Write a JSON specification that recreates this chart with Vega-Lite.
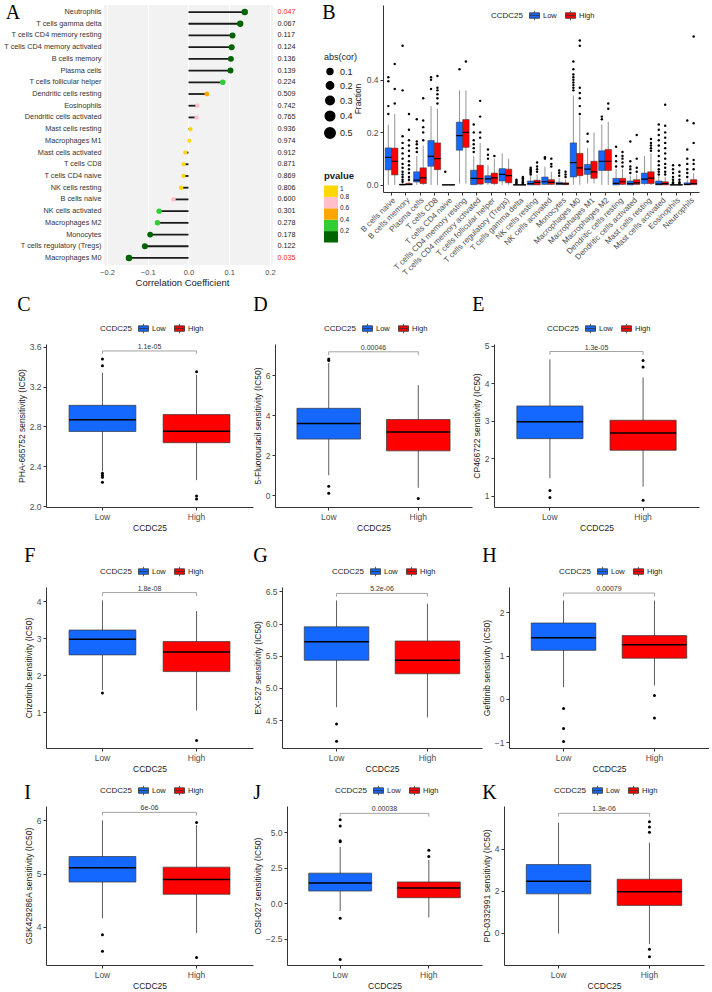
{
"$schema": "https://vega.github.io/schema/vega-lite/v6.json",
"padding": {"left": 3, "top": 3, "right": 0, "bottom": 0},
"config": {
  "view": {"stroke": null},
  "font": "Liberation Sans",
  "axis": {"labelFont": "Liberation Sans", "titleFont": "Liberation Sans", "labelFontSize": 8.5, "titleFontSize": 8.5, "titleFontWeight": "normal", "labelColor": "#4d4d4d", "titleColor": "#1a1a1a", "domainColor": "#333333", "tickColor": "#333333", "tickSize": 3, "grid": false, "labelPadding": 2, "titlePadding": 3},
  "legend": {"titleFont": "Liberation Sans", "labelFont": "Liberation Sans", "titleFontSize": 8, "labelFontSize": 7.5, "titleFontWeight": "normal", "titleColor": "#1a1a1a", "labelColor": "#1a1a1a", "gradientLength": 57, "gradientVerticalMaxLength": 57, "gradientVerticalMinLength": 57, "gradientThickness": 14},
  "title": {"font": "Liberation Serif", "fontSize": 20, "fontWeight": "normal", "anchor": "start", "color": "#000000"}
},
"datasets": {
  "cells": [
    {"cell": "Neutrophils", "cor": 0.138, "abscor": 0.138, "pvalue": 0.047, "ptext": "0.047"},
    {"cell": "T cells gamma delta", "cor": 0.127, "abscor": 0.127, "pvalue": 0.067, "ptext": "0.067"},
    {"cell": "T cells CD4 memory resting", "cor": 0.108, "abscor": 0.108, "pvalue": 0.117, "ptext": "0.117"},
    {"cell": "T cells CD4 memory activated", "cor": 0.106, "abscor": 0.106, "pvalue": 0.124, "ptext": "0.124"},
    {"cell": "B cells memory", "cor": 0.104, "abscor": 0.104, "pvalue": 0.136, "ptext": "0.136"},
    {"cell": "Plasma cells", "cor": 0.103, "abscor": 0.103, "pvalue": 0.139, "ptext": "0.139"},
    {"cell": "T cells follicular helper", "cor": 0.084, "abscor": 0.084, "pvalue": 0.224, "ptext": "0.224"},
    {"cell": "Dendritic cells resting", "cor": 0.045, "abscor": 0.045, "pvalue": 0.509, "ptext": "0.509"},
    {"cell": "Eosinophils", "cor": 0.022, "abscor": 0.022, "pvalue": 0.742, "ptext": "0.742"},
    {"cell": "Dendritic cells activated", "cor": 0.020, "abscor": 0.020, "pvalue": 0.765, "ptext": "0.765"},
    {"cell": "Mast cells resting", "cor": 0.005, "abscor": 0.005, "pvalue": 0.936, "ptext": "0.936"},
    {"cell": "Macrophages M1", "cor": 0.002, "abscor": 0.002, "pvalue": 0.974, "ptext": "0.974"},
    {"cell": "Mast cells activated", "cor": -0.008, "abscor": 0.008, "pvalue": 0.912, "ptext": "0.912"},
    {"cell": "T cells CD8", "cor": -0.012, "abscor": 0.012, "pvalue": 0.871, "ptext": "0.871"},
    {"cell": "T cells CD4 naive", "cor": -0.0125, "abscor": 0.0125, "pvalue": 0.869, "ptext": "0.869"},
    {"cell": "NK cells resting", "cor": -0.018, "abscor": 0.018, "pvalue": 0.806, "ptext": "0.806"},
    {"cell": "B cells naive", "cor": -0.037, "abscor": 0.037, "pvalue": 0.600, "ptext": "0.600"},
    {"cell": "NK cells activated", "cor": -0.072, "abscor": 0.072, "pvalue": 0.301, "ptext": "0.301"},
    {"cell": "Macrophages M2", "cor": -0.076, "abscor": 0.076, "pvalue": 0.278, "ptext": "0.278"},
    {"cell": "Monocytes", "cor": -0.094, "abscor": 0.094, "pvalue": 0.178, "ptext": "0.178"},
    {"cell": "T cells regulatory (Tregs)", "cor": -0.107, "abscor": 0.107, "pvalue": 0.122, "ptext": "0.122"},
    {"cell": "Macrophages M0", "cor": -0.146, "abscor": 0.146, "pvalue": 0.035, "ptext": "0.035"}
  ],
  "imm": [
    {"cell": "B cells naive", "grp": "Low", "lo": 0, "q1": 0.057, "med": 0.105, "q3": 0.141, "hi": 0.23},
    {"cell": "B cells naive", "grp": "High", "lo": 0, "q1": 0.038, "med": 0.09, "q3": 0.14, "hi": 0.27},
    {"cell": "B cells memory", "grp": "Low", "lo": 0, "q1": 0, "med": 0.001, "q3": 0.003, "hi": 0.007},
    {"cell": "B cells memory", "grp": "High", "lo": 0, "q1": 0, "med": 0.002, "q3": 0.006, "hi": 0.014},
    {"cell": "Plasma cells", "grp": "Low", "lo": 0, "q1": 0.011, "med": 0.018, "q3": 0.05, "hi": 0.11},
    {"cell": "Plasma cells", "grp": "High", "lo": 0, "q1": 0.005, "med": 0.027, "q3": 0.065, "hi": 0.15},
    {"cell": "T cells CD8", "grp": "Low", "lo": 0, "q1": 0.071, "med": 0.109, "q3": 0.169, "hi": 0.30},
    {"cell": "T cells CD8", "grp": "High", "lo": 0, "q1": 0.058, "med": 0.10, "q3": 0.16, "hi": 0.29},
    {"cell": "T cells CD4 naive", "grp": "Low", "lo": 0, "q1": 0, "med": 0, "q3": 0.001, "hi": 0.002},
    {"cell": "T cells CD4 naive", "grp": "High", "lo": 0, "q1": 0, "med": 0, "q3": 0.001, "hi": 0.002},
    {"cell": "T cells CD4 memory resting", "grp": "Low", "lo": 0.005, "q1": 0.132, "med": 0.188, "q3": 0.239, "hi": 0.36},
    {"cell": "T cells CD4 memory resting", "grp": "High", "lo": 0.005, "q1": 0.143, "med": 0.20, "q3": 0.249, "hi": 0.36},
    {"cell": "T cells CD4 memory activated", "grp": "Low", "lo": 0, "q1": 0.001, "med": 0.025, "q3": 0.056, "hi": 0.11},
    {"cell": "T cells CD4 memory activated", "grp": "High", "lo": 0, "q1": 0.003, "med": 0.024, "q3": 0.075, "hi": 0.16},
    {"cell": "T cells follicular helper", "grp": "Low", "lo": 0, "q1": 0.008, "med": 0.023, "q3": 0.035, "hi": 0.075},
    {"cell": "T cells follicular helper", "grp": "High", "lo": 0, "q1": 0.005, "med": 0.027, "q3": 0.045, "hi": 0.10},
    {"cell": "T cells regulatory (Tregs)", "grp": "Low", "lo": 0, "q1": 0.015, "med": 0.04, "q3": 0.062, "hi": 0.12},
    {"cell": "T cells regulatory (Tregs)", "grp": "High", "lo": 0, "q1": 0.008, "med": 0.035, "q3": 0.06, "hi": 0.10},
    {"cell": "T cells gamma delta", "grp": "Low", "lo": 0, "q1": 0, "med": 0, "q3": 0.001, "hi": 0.002},
    {"cell": "T cells gamma delta", "grp": "High", "lo": 0, "q1": 0, "med": 0, "q3": 0.001, "hi": 0.003},
    {"cell": "NK cells resting", "grp": "Low", "lo": 0, "q1": 0, "med": 0.005, "q3": 0.015, "hi": 0.035},
    {"cell": "NK cells resting", "grp": "High", "lo": 0, "q1": 0, "med": 0.01, "q3": 0.018, "hi": 0.04},
    {"cell": "NK cells activated", "grp": "Low", "lo": 0, "q1": 0.002, "med": 0.012, "q3": 0.03, "hi": 0.07},
    {"cell": "NK cells activated", "grp": "High", "lo": 0, "q1": 0.002, "med": 0.01, "q3": 0.02, "hi": 0.05},
    {"cell": "Monocytes", "grp": "Low", "lo": 0, "q1": 0.001, "med": 0.005, "q3": 0.01, "hi": 0.025},
    {"cell": "Monocytes", "grp": "High", "lo": 0, "q1": 0.001, "med": 0.004, "q3": 0.008, "hi": 0.02},
    {"cell": "Macrophages M0", "grp": "Low", "lo": 0, "q1": 0.03, "med": 0.085, "q3": 0.16, "hi": 0.34},
    {"cell": "Macrophages M0", "grp": "High", "lo": 0, "q1": 0.035, "med": 0.065, "q3": 0.12, "hi": 0.26},
    {"cell": "Macrophages M1", "grp": "Low", "lo": 0.005, "q1": 0.04, "med": 0.06, "q3": 0.078, "hi": 0.14},
    {"cell": "Macrophages M1", "grp": "High", "lo": 0.005, "q1": 0.025, "med": 0.05, "q3": 0.09, "hi": 0.20},
    {"cell": "Macrophages M2", "grp": "Low", "lo": 0, "q1": 0.055, "med": 0.09, "q3": 0.13, "hi": 0.23},
    {"cell": "Macrophages M2", "grp": "High", "lo": 0, "q1": 0.055, "med": 0.09, "q3": 0.135, "hi": 0.24},
    {"cell": "Dendritic cells resting", "grp": "Low", "lo": 0, "q1": 0, "med": 0.006, "q3": 0.025, "hi": 0.06},
    {"cell": "Dendritic cells resting", "grp": "High", "lo": 0, "q1": 0.002, "med": 0.012, "q3": 0.025, "hi": 0.06},
    {"cell": "Dendritic cells activated", "grp": "Low", "lo": 0, "q1": 0, "med": 0.005, "q3": 0.015, "hi": 0.035},
    {"cell": "Dendritic cells activated", "grp": "High", "lo": 0, "q1": 0.002, "med": 0.008, "q3": 0.02, "hi": 0.04},
    {"cell": "Mast cells resting", "grp": "Low", "lo": 0, "q1": 0.005, "med": 0.022, "q3": 0.045, "hi": 0.11},
    {"cell": "Mast cells resting", "grp": "High", "lo": 0, "q1": 0.005, "med": 0.026, "q3": 0.05, "hi": 0.12},
    {"cell": "Mast cells activated", "grp": "Low", "lo": 0, "q1": 0, "med": 0.003, "q3": 0.015, "hi": 0.035},
    {"cell": "Mast cells activated", "grp": "High", "lo": 0, "q1": 0, "med": 0.005, "q3": 0.012, "hi": 0.03},
    {"cell": "Eosinophils", "grp": "Low", "lo": 0, "q1": 0, "med": 0, "q3": 0.001, "hi": 0.002},
    {"cell": "Eosinophils", "grp": "High", "lo": 0, "q1": 0, "med": 0, "q3": 0.001, "hi": 0.002},
    {"cell": "Neutrophils", "grp": "Low", "lo": 0, "q1": 0, "med": 0.002, "q3": 0.008, "hi": 0.02},
    {"cell": "Neutrophils", "grp": "High", "lo": 0, "q1": 0.001, "med": 0.005, "q3": 0.02, "hi": 0.045}
  ],
  "imm_out": [
    {"cell": "B cells naive", "grp": "Low", "v": 0.27}, {"cell": "B cells naive", "grp": "Low", "v": 0.30}, {"cell": "B cells naive", "grp": "Low", "v": 0.395}, {"cell": "B cells naive", "grp": "Low", "v": 0.41},
    {"cell": "B cells naive", "grp": "High", "v": 0.31}, {"cell": "B cells naive", "grp": "High", "v": 0.365}, {"cell": "B cells naive", "grp": "High", "v": 0.46},
    {"cell": "B cells memory", "grp": "Low", "v": 0.012}, {"cell": "B cells memory", "grp": "Low", "v": 0.02}, {"cell": "B cells memory", "grp": "Low", "v": 0.03}, {"cell": "B cells memory", "grp": "Low", "v": 0.04}, {"cell": "B cells memory", "grp": "Low", "v": 0.05}, {"cell": "B cells memory", "grp": "Low", "v": 0.065}, {"cell": "B cells memory", "grp": "Low", "v": 0.08}, {"cell": "B cells memory", "grp": "Low", "v": 0.1}, {"cell": "B cells memory", "grp": "Low", "v": 0.12}, {"cell": "B cells memory", "grp": "Low", "v": 0.14}, {"cell": "B cells memory", "grp": "Low", "v": 0.16}, {"cell": "B cells memory", "grp": "Low", "v": 0.185}, {"cell": "B cells memory", "grp": "Low", "v": 0.36}, {"cell": "B cells memory", "grp": "Low", "v": 0.53},
    {"cell": "B cells memory", "grp": "High", "v": 0.02}, {"cell": "B cells memory", "grp": "High", "v": 0.03}, {"cell": "B cells memory", "grp": "High", "v": 0.045}, {"cell": "B cells memory", "grp": "High", "v": 0.06}, {"cell": "B cells memory", "grp": "High", "v": 0.075}, {"cell": "B cells memory", "grp": "High", "v": 0.09}, {"cell": "B cells memory", "grp": "High", "v": 0.11}, {"cell": "B cells memory", "grp": "High", "v": 0.13}, {"cell": "B cells memory", "grp": "High", "v": 0.15}, {"cell": "B cells memory", "grp": "High", "v": 0.17}, {"cell": "B cells memory", "grp": "High", "v": 0.21}, {"cell": "B cells memory", "grp": "High", "v": 0.27},
    {"cell": "Plasma cells", "grp": "Low", "v": 0.125}, {"cell": "Plasma cells", "grp": "Low", "v": 0.14}, {"cell": "Plasma cells", "grp": "Low", "v": 0.155}, {"cell": "Plasma cells", "grp": "Low", "v": 0.165}, {"cell": "Plasma cells", "grp": "Low", "v": 0.25},
    {"cell": "Plasma cells", "grp": "High", "v": 0.17}, {"cell": "Plasma cells", "grp": "High", "v": 0.2}, {"cell": "Plasma cells", "grp": "High", "v": 0.22}, {"cell": "Plasma cells", "grp": "High", "v": 0.245}, {"cell": "Plasma cells", "grp": "High", "v": 0.33},
    {"cell": "T cells CD8", "grp": "Low", "v": 0.365}, {"cell": "T cells CD8", "grp": "Low", "v": 0.40}, {"cell": "T cells CD8", "grp": "Low", "v": 0.41},
    {"cell": "T cells CD8", "grp": "High", "v": 0.31}, {"cell": "T cells CD8", "grp": "High", "v": 0.33}, {"cell": "T cells CD8", "grp": "High", "v": 0.345}, {"cell": "T cells CD8", "grp": "High", "v": 0.36}, {"cell": "T cells CD8", "grp": "High", "v": 0.37}, {"cell": "T cells CD8", "grp": "High", "v": 0.415},
    {"cell": "T cells CD4 naive", "grp": "Low", "v": 0.05},
    {"cell": "T cells CD4 memory resting", "grp": "Low", "v": 0.44}, {"cell": "T cells CD4 memory resting", "grp": "High", "v": 0.47},
    {"cell": "T cells CD4 memory activated", "grp": "Low", "v": 0.125}, {"cell": "T cells CD4 memory activated", "grp": "Low", "v": 0.14}, {"cell": "T cells CD4 memory activated", "grp": "Low", "v": 0.155}, {"cell": "T cells CD4 memory activated", "grp": "Low", "v": 0.17}, {"cell": "T cells CD4 memory activated", "grp": "Low", "v": 0.2}, {"cell": "T cells CD4 memory activated", "grp": "Low", "v": 0.23},
    {"cell": "T cells CD4 memory activated", "grp": "High", "v": 0.18}, {"cell": "T cells CD4 memory activated", "grp": "High", "v": 0.2}, {"cell": "T cells CD4 memory activated", "grp": "High", "v": 0.26}, {"cell": "T cells CD4 memory activated", "grp": "High", "v": 0.32},
    {"cell": "T cells follicular helper", "grp": "Low", "v": 0.10}, {"cell": "T cells follicular helper", "grp": "Low", "v": 0.115}, {"cell": "T cells follicular helper", "grp": "Low", "v": 0.135}, {"cell": "T cells follicular helper", "grp": "High", "v": 0.11},
    {"cell": "T cells gamma delta", "grp": "Low", "v": 0.005}, {"cell": "T cells gamma delta", "grp": "Low", "v": 0.01}, {"cell": "T cells gamma delta", "grp": "Low", "v": 0.015}, {"cell": "T cells gamma delta", "grp": "Low", "v": 0.02},
    {"cell": "T cells gamma delta", "grp": "High", "v": 0.005}, {"cell": "T cells gamma delta", "grp": "High", "v": 0.01}, {"cell": "T cells gamma delta", "grp": "High", "v": 0.015}, {"cell": "T cells gamma delta", "grp": "High", "v": 0.02}, {"cell": "T cells gamma delta", "grp": "High", "v": 0.025}, {"cell": "T cells gamma delta", "grp": "High", "v": 0.03},
    {"cell": "NK cells resting", "grp": "Low", "v": 0.04}, {"cell": "NK cells resting", "grp": "Low", "v": 0.045}, {"cell": "NK cells resting", "grp": "Low", "v": 0.05}, {"cell": "NK cells resting", "grp": "Low", "v": 0.055}, {"cell": "NK cells resting", "grp": "Low", "v": 0.06}, {"cell": "NK cells resting", "grp": "Low", "v": 0.065},
    {"cell": "NK cells resting", "grp": "High", "v": 0.05}, {"cell": "NK cells resting", "grp": "High", "v": 0.06}, {"cell": "NK cells resting", "grp": "High", "v": 0.07}, {"cell": "NK cells resting", "grp": "High", "v": 0.085},
    {"cell": "NK cells activated", "grp": "Low", "v": 0.10}, {"cell": "NK cells activated", "grp": "Low", "v": 0.105}, {"cell": "NK cells activated", "grp": "High", "v": 0.07}, {"cell": "NK cells activated", "grp": "High", "v": 0.08}, {"cell": "NK cells activated", "grp": "High", "v": 0.10},
    {"cell": "Monocytes", "grp": "Low", "v": 0.035}, {"cell": "Monocytes", "grp": "Low", "v": 0.045}, {"cell": "Monocytes", "grp": "Low", "v": 0.055}, {"cell": "Monocytes", "grp": "High", "v": 0.03}, {"cell": "Monocytes", "grp": "High", "v": 0.04}, {"cell": "Monocytes", "grp": "High", "v": 0.05},
    {"cell": "Macrophages M0", "grp": "Low", "v": 0.36}, {"cell": "Macrophages M0", "grp": "Low", "v": 0.37}, {"cell": "Macrophages M0", "grp": "Low", "v": 0.38}, {"cell": "Macrophages M0", "grp": "Low", "v": 0.39}, {"cell": "Macrophages M0", "grp": "Low", "v": 0.40}, {"cell": "Macrophages M0", "grp": "Low", "v": 0.41}, {"cell": "Macrophages M0", "grp": "Low", "v": 0.42}, {"cell": "Macrophages M0", "grp": "Low", "v": 0.44}, {"cell": "Macrophages M0", "grp": "Low", "v": 0.47},
    {"cell": "Macrophages M0", "grp": "High", "v": 0.27}, {"cell": "Macrophages M0", "grp": "High", "v": 0.30}, {"cell": "Macrophages M0", "grp": "High", "v": 0.33}, {"cell": "Macrophages M0", "grp": "High", "v": 0.35}, {"cell": "Macrophages M0", "grp": "High", "v": 0.37}, {"cell": "Macrophages M0", "grp": "High", "v": 0.53}, {"cell": "Macrophages M0", "grp": "High", "v": 0.55},
    {"cell": "Macrophages M1", "grp": "Low", "v": 0.165}, {"cell": "Macrophages M1", "grp": "Low", "v": 0.195},
    {"cell": "Macrophages M2", "grp": "Low", "v": 0.25}, {"cell": "Macrophages M2", "grp": "Low", "v": 0.26}, {"cell": "Macrophages M2", "grp": "High", "v": 0.29}, {"cell": "Macrophages M2", "grp": "High", "v": 0.31},
    {"cell": "Dendritic cells resting", "grp": "Low", "v": 0.07}, {"cell": "Dendritic cells resting", "grp": "Low", "v": 0.09}, {"cell": "Dendritic cells resting", "grp": "Low", "v": 0.11}, {"cell": "Dendritic cells resting", "grp": "Low", "v": 0.145},
    {"cell": "Dendritic cells resting", "grp": "High", "v": 0.07}, {"cell": "Dendritic cells resting", "grp": "High", "v": 0.085}, {"cell": "Dendritic cells resting", "grp": "High", "v": 0.10}, {"cell": "Dendritic cells resting", "grp": "High", "v": 0.11}, {"cell": "Dendritic cells resting", "grp": "High", "v": 0.125},
    {"cell": "Dendritic cells activated", "grp": "Low", "v": 0.045}, {"cell": "Dendritic cells activated", "grp": "Low", "v": 0.06}, {"cell": "Dendritic cells activated", "grp": "Low", "v": 0.07}, {"cell": "Dendritic cells activated", "grp": "Low", "v": 0.09}, {"cell": "Dendritic cells activated", "grp": "Low", "v": 0.165},
    {"cell": "Dendritic cells activated", "grp": "High", "v": 0.05}, {"cell": "Dendritic cells activated", "grp": "High", "v": 0.065}, {"cell": "Dendritic cells activated", "grp": "High", "v": 0.10}, {"cell": "Dendritic cells activated", "grp": "High", "v": 0.19},
    {"cell": "Mast cells resting", "grp": "High", "v": 0.13}, {"cell": "Mast cells resting", "grp": "High", "v": 0.14}, {"cell": "Mast cells resting", "grp": "High", "v": 0.15}, {"cell": "Mast cells resting", "grp": "High", "v": 0.16}, {"cell": "Mast cells resting", "grp": "High", "v": 0.175},
    {"cell": "Mast cells activated", "grp": "Low", "v": 0.04}, {"cell": "Mast cells activated", "grp": "Low", "v": 0.05}, {"cell": "Mast cells activated", "grp": "Low", "v": 0.06}, {"cell": "Mast cells activated", "grp": "Low", "v": 0.075}, {"cell": "Mast cells activated", "grp": "Low", "v": 0.09}, {"cell": "Mast cells activated", "grp": "Low", "v": 0.11}, {"cell": "Mast cells activated", "grp": "Low", "v": 0.13}, {"cell": "Mast cells activated", "grp": "Low", "v": 0.15}, {"cell": "Mast cells activated", "grp": "Low", "v": 0.17}, {"cell": "Mast cells activated", "grp": "Low", "v": 0.19}, {"cell": "Mast cells activated", "grp": "Low", "v": 0.21}, {"cell": "Mast cells activated", "grp": "Low", "v": 0.23},
    {"cell": "Mast cells activated", "grp": "High", "v": 0.04}, {"cell": "Mast cells activated", "grp": "High", "v": 0.05}, {"cell": "Mast cells activated", "grp": "High", "v": 0.065}, {"cell": "Mast cells activated", "grp": "High", "v": 0.08}, {"cell": "Mast cells activated", "grp": "High", "v": 0.10}, {"cell": "Mast cells activated", "grp": "High", "v": 0.12}, {"cell": "Mast cells activated", "grp": "High", "v": 0.14}, {"cell": "Mast cells activated", "grp": "High", "v": 0.16}, {"cell": "Mast cells activated", "grp": "High", "v": 0.18}, {"cell": "Mast cells activated", "grp": "High", "v": 0.20}, {"cell": "Mast cells activated", "grp": "High", "v": 0.225}, {"cell": "Mast cells activated", "grp": "High", "v": 0.305},
    {"cell": "Eosinophils", "grp": "Low", "v": 0.005}, {"cell": "Eosinophils", "grp": "Low", "v": 0.01}, {"cell": "Eosinophils", "grp": "Low", "v": 0.02}, {"cell": "Eosinophils", "grp": "Low", "v": 0.03}, {"cell": "Eosinophils", "grp": "Low", "v": 0.045}, {"cell": "Eosinophils", "grp": "Low", "v": 0.06}, {"cell": "Eosinophils", "grp": "Low", "v": 0.075},
    {"cell": "Eosinophils", "grp": "High", "v": 0.005}, {"cell": "Eosinophils", "grp": "High", "v": 0.01}, {"cell": "Eosinophils", "grp": "High", "v": 0.02}, {"cell": "Eosinophils", "grp": "High", "v": 0.035}, {"cell": "Eosinophils", "grp": "High", "v": 0.05}, {"cell": "Eosinophils", "grp": "High", "v": 0.075},
    {"cell": "Neutrophils", "grp": "Low", "v": 0.03}, {"cell": "Neutrophils", "grp": "Low", "v": 0.045}, {"cell": "Neutrophils", "grp": "Low", "v": 0.06}, {"cell": "Neutrophils", "grp": "Low", "v": 0.08}, {"cell": "Neutrophils", "grp": "Low", "v": 0.10}, {"cell": "Neutrophils", "grp": "Low", "v": 0.135}, {"cell": "Neutrophils", "grp": "Low", "v": 0.245},
    {"cell": "Neutrophils", "grp": "High", "v": 0.06}, {"cell": "Neutrophils", "grp": "High", "v": 0.08}, {"cell": "Neutrophils", "grp": "High", "v": 0.095}, {"cell": "Neutrophils", "grp": "High", "v": 0.16}, {"cell": "Neutrophils", "grp": "High", "v": 0.235}, {"cell": "Neutrophils", "grp": "High", "v": 0.565}
  ],
  "drug": [
    {"panel": "C", "grp": "Low", "lo": 2.35, "q1": 2.75, "med": 2.867, "q3": 3.013, "hi": 3.34},
    {"panel": "C", "grp": "High", "lo": 2.26, "q1": 2.637, "med": 2.753, "q3": 2.92, "hi": 3.32},
    {"panel": "D", "grp": "Low", "lo": 1.0, "q1": 2.81, "med": 3.59, "q3": 4.35, "hi": 6.62},
    {"panel": "D", "grp": "High", "lo": 0.37, "q1": 2.22, "med": 3.16, "q3": 3.79, "hi": 5.51},
    {"panel": "E", "grp": "Low", "lo": 1.47, "q1": 2.52, "med": 2.97, "q3": 3.39, "hi": 4.63},
    {"panel": "E", "grp": "High", "lo": 1.24, "q1": 2.21, "med": 2.67, "q3": 3.01, "hi": 4.15},
    {"panel": "F", "grp": "Low", "lo": 1.6, "q1": 2.55, "med": 2.97, "q3": 3.22, "hi": 4.02},
    {"panel": "F", "grp": "High", "lo": 1.05, "q1": 2.10, "med": 2.63, "q3": 2.91, "hi": 3.73},
    {"panel": "G", "grp": "Low", "lo": 4.70, "q1": 5.43, "med": 5.72, "q3": 5.95, "hi": 6.36},
    {"panel": "G", "grp": "High", "lo": 4.54, "q1": 5.22, "med": 5.43, "q3": 5.73, "hi": 6.31},
    {"panel": "H", "grp": "Low", "lo": 0.27, "q1": 1.12, "med": 1.41, "q3": 1.75, "hi": 2.27},
    {"panel": "H", "grp": "High", "lo": 0.31, "q1": 0.94, "med": 1.25, "q3": 1.46, "hi": 2.27},
    {"panel": "I", "grp": "Low", "lo": 4.16, "q1": 4.84, "med": 5.11, "q3": 5.32, "hi": 6.0},
    {"panel": "I", "grp": "High", "lo": 3.88, "q1": 4.61, "med": 4.89, "q3": 5.12, "hi": 5.91},
    {"panel": "J", "grp": "Low", "lo": -0.55, "q1": 0.86, "med": 1.43, "q3": 2.12, "hi": 3.96},
    {"panel": "J", "grp": "High", "lo": -1.0, "q1": 0.39, "med": 1.08, "q3": 1.5, "hi": 3.05},
    {"panel": "K", "grp": "Low", "lo": -0.05, "q1": 1.85, "med": 2.45, "q3": 3.25, "hi": 5.25},
    {"panel": "K", "grp": "High", "lo": -0.55, "q1": 1.3, "med": 1.95, "q3": 2.55, "hi": 4.3}
  ],
  "drug_out": [
    {"panel": "C", "grp": "Low", "v": 3.48}, {"panel": "C", "grp": "Low", "v": 3.41}, {"panel": "C", "grp": "Low", "v": 2.33}, {"panel": "C", "grp": "Low", "v": 2.31}, {"panel": "C", "grp": "Low", "v": 2.29}, {"panel": "C", "grp": "Low", "v": 2.24},
    {"panel": "C", "grp": "High", "v": 3.35}, {"panel": "C", "grp": "High", "v": 2.10}, {"panel": "C", "grp": "High", "v": 2.07},
    {"panel": "D", "grp": "Low", "v": 6.82}, {"panel": "D", "grp": "Low", "v": 6.75}, {"panel": "D", "grp": "Low", "v": 0.45}, {"panel": "D", "grp": "Low", "v": 0.1}, {"panel": "D", "grp": "High", "v": -0.17},
    {"panel": "E", "grp": "Low", "v": 1.14}, {"panel": "E", "grp": "Low", "v": 0.95}, {"panel": "E", "grp": "High", "v": 4.6}, {"panel": "E", "grp": "High", "v": 4.43}, {"panel": "E", "grp": "High", "v": 0.88},
    {"panel": "F", "grp": "Low", "v": 1.52}, {"panel": "F", "grp": "High", "v": 0.24},
    {"panel": "G", "grp": "Low", "v": 4.44}, {"panel": "G", "grp": "Low", "v": 4.17},
    {"panel": "H", "grp": "Low", "v": -0.22}, {"panel": "H", "grp": "Low", "v": -0.68}, {"panel": "H", "grp": "Low", "v": -0.98}, {"panel": "H", "grp": "High", "v": 0.08}, {"panel": "H", "grp": "High", "v": -0.44},
    {"panel": "I", "grp": "Low", "v": 3.85}, {"panel": "I", "grp": "Low", "v": 3.54}, {"panel": "I", "grp": "High", "v": 5.96}, {"panel": "I", "grp": "High", "v": 3.42},
    {"panel": "J", "grp": "Low", "v": 5.88}, {"panel": "J", "grp": "Low", "v": 5.44}, {"panel": "J", "grp": "Low", "v": 4.4}, {"panel": "J", "grp": "Low", "v": 4.33}, {"panel": "J", "grp": "Low", "v": -1.06}, {"panel": "J", "grp": "Low", "v": -3.96}, {"panel": "J", "grp": "High", "v": 3.3}, {"panel": "J", "grp": "High", "v": 3.73},
    {"panel": "K", "grp": "High", "v": 4.8}, {"panel": "K", "grp": "High", "v": 5.05}, {"panel": "K", "grp": "High", "v": 5.3}, {"panel": "K", "grp": "High", "v": -0.8}, {"panel": "K", "grp": "High", "v": -1.15}
  ],
  "drug_br": [
    {"panel": "C", "grp": "Low", "y": 3.53, "ord": 1}, {"panel": "C", "grp": "Low", "y": 3.56, "ord": 2}, {"panel": "C", "grp": "High", "y": 3.56, "ord": 3}, {"panel": "C", "grp": "High", "y": 3.53, "ord": 4},
    {"panel": "D", "grp": "Low", "y": 7.01, "ord": 1}, {"panel": "D", "grp": "Low", "y": 7.18, "ord": 2}, {"panel": "D", "grp": "High", "y": 7.18, "ord": 3}, {"panel": "D", "grp": "High", "y": 7.01, "ord": 4},
    {"panel": "E", "grp": "Low", "y": 4.75, "ord": 1}, {"panel": "E", "grp": "Low", "y": 4.84, "ord": 2}, {"panel": "E", "grp": "High", "y": 4.84, "ord": 3}, {"panel": "E", "grp": "High", "y": 4.75, "ord": 4},
    {"panel": "F", "grp": "Low", "y": 4.14, "ord": 1}, {"panel": "F", "grp": "Low", "y": 4.23, "ord": 2}, {"panel": "F", "grp": "High", "y": 4.23, "ord": 3}, {"panel": "F", "grp": "High", "y": 4.14, "ord": 4},
    {"panel": "G", "grp": "Low", "y": 6.42, "ord": 1}, {"panel": "G", "grp": "Low", "y": 6.47, "ord": 2}, {"panel": "G", "grp": "High", "y": 6.47, "ord": 3}, {"panel": "G", "grp": "High", "y": 6.42, "ord": 4},
    {"panel": "H", "grp": "Low", "y": 2.36, "ord": 1}, {"panel": "H", "grp": "Low", "y": 2.44, "ord": 2}, {"panel": "H", "grp": "High", "y": 2.44, "ord": 3}, {"panel": "H", "grp": "High", "y": 2.36, "ord": 4},
    {"panel": "I", "grp": "Low", "y": 6.09, "ord": 1}, {"panel": "I", "grp": "Low", "y": 6.15, "ord": 2}, {"panel": "I", "grp": "High", "y": 6.15, "ord": 3}, {"panel": "I", "grp": "High", "y": 6.09, "ord": 4},
    {"panel": "J", "grp": "Low", "y": 6.1, "ord": 1}, {"panel": "J", "grp": "Low", "y": 6.33, "ord": 2}, {"panel": "J", "grp": "High", "y": 6.33, "ord": 3}, {"panel": "J", "grp": "High", "y": 6.1, "ord": 4},
    {"panel": "K", "grp": "Low", "y": 5.54, "ord": 1}, {"panel": "K", "grp": "Low", "y": 5.7, "ord": 2}, {"panel": "K", "grp": "High", "y": 5.7, "ord": 3}, {"panel": "K", "grp": "High", "y": 5.54, "ord": 4}
  ],
  "drug_p": [
    {"panel": "C", "y": 3.56, "p": "1.1e-05"}, {"panel": "D", "y": 7.18, "p": "0.00046"}, {"panel": "E", "y": 4.84, "p": "1.3e-05"},
    {"panel": "F", "y": 4.23, "p": "1.8e-08"}, {"panel": "G", "y": 6.47, "p": "5.2e-06"}, {"panel": "H", "y": 2.44, "p": "0.00079"},
    {"panel": "I", "y": 6.15, "p": "6e-06"}, {"panel": "J", "y": 6.33, "p": "0.00038"}, {"panel": "K", "y": 5.7, "p": "1.3e-06"}
  ]
},
"spacing": 8,
"resolve": {"scale": {"color": "independent", "size": "independent"}},
"vconcat": [
 {
  "spacing": -36,
  "resolve": {"scale": {"color": "independent", "size": "independent"}},
  "hconcat": [
   {
    "width": 227, "height": 260,
    "view": {"fill": "#F2F2F2", "stroke": null},
    "title": {"text": "A", "offset": -18, "dx": 2},
    "data": {"name": "cells"},
    "layer": [
      {"layer": [
        {"data": {"values": [{}]}, "mark": {"type": "rect", "color": "#FFFFFF"},
         "encoding": {"x": {"datum": -0.3497, "type": "quantitative"}, "x2": {"datum": -0.2074}}},
        {"mark": {"type": "rule", "color": "#1a1a1a", "strokeWidth": 1.8},
         "encoding": {
           "y": {"field": "cell", "type": "nominal", "sort": {"field": "cor", "order": "descending"}, "scale": {"type": "band", "paddingInner": 0, "paddingOuter": 0.1},
                 "axis": {"title": null, "domain": false, "ticks": false, "grid": false, "labelFontSize": 7.3, "labelColor": "#333333", "labelPadding": -55, "zindex": 1}},
           "x": {"field": "cor", "type": "quantitative", "scale": {"domain": [-0.3497, 0.2074], "nice": false, "zero": false},
                 "axis": {"title": "Correlation Coefficient", "titleX": 136, "values": [-0.2, -0.1, 0, 0.1, 0.2], "format": ".1f", "domain": false, "ticks": false, "grid": true, "gridColor": "#FFFFFF", "gridWidth": 1, "labelFontSize": 7.5, "titleFontSize": 9.5, "labelPadding": 3, "titlePadding": 2}},
           "x2": {"datum": 0}
         }},
        {"mark": {"type": "circle", "opacity": 1},
         "encoding": {
           "y": {"field": "cell", "type": "nominal", "sort": {"field": "cor", "order": "descending"}},
           "x": {"field": "cor", "type": "quantitative"},
           "color": {"field": "pvalue", "type": "quantitative",
                     "scale": {"type": "quantize", "domain": [0, 1], "nice": false, "zero": false, "range": ["#006400", "#32CD32", "#FFA500", "#FFC0CB", "#FFD700"]},
                     "legend": {"type": "gradient", "title": "pvalue", "orient": "none", "legendX": 278, "legendY": 166, "direction": "vertical", "titleFontWeight": "bold", "titleFontSize": 9.5, "gradientLength": 57, "gradientThickness": 14, "labelFontSize": 6.5, "format": ".1~f", "values": [0, 0.2, 0.4, 0.6, 0.8, 1]}},
           "size": {"field": "abscor", "type": "quantitative", "scale": {"domain": [0, 0.5], "range": [16, 110]},
                    "legend": {"title": "abs(cor)", "orient": "none", "legendX": 278, "legendY": 48, "direction": "vertical", "values": [0.1, 0.2, 0.3, 0.4, 0.5], "symbolFillColor": "#000000", "symbolStrokeColor": "#000000", "symbolType": "circle", "symbolOpacity": 1, "titleFontSize": 9, "labelFontSize": 9, "rowPadding": 0}}
         }}
      ]},
      {"mark": {"type": "tick", "opacity": 0},
       "encoding": {
         "y": {"field": "ptext", "type": "nominal", "sort": {"field": "cor", "order": "descending"}, "scale": {"type": "band", "paddingInner": 0, "paddingOuter": 0.1},
               "axis": {"orient": "right", "title": null, "domain": false, "ticks": false, "grid": false, "labelFontSize": 7.2, "labelPadding": 4,
                        "labelColor": {"condition": {"test": "toNumber(datum.value) < 0.05", "value": "#FF2020"}, "value": "#1a1a1a"}}},
         "x": {"datum": 0, "type": "quantitative"}
       }}
    ],
    "resolve": {"scale": {"y": "independent"}}
   },
   {
    "width": 316, "height": 187,
    "title": {"text": "B", "dx": -31, "offset": -18},
    "layer": [
      {"data": {"name": "imm"}, "mark": {"type": "rule", "color": "#666666", "strokeWidth": 0.7},
       "encoding": {
         "x": {"field": "cell", "type": "nominal",
               "scale": {"domain": ["B cells naive","B cells memory","Plasma cells","T cells CD8","T cells CD4 naive","T cells CD4 memory resting","T cells CD4 memory activated","T cells follicular helper","T cells regulatory (Tregs)","T cells gamma delta","NK cells resting","NK cells activated","Monocytes","Macrophages M0","Macrophages M1","Macrophages M2","Dendritic cells resting","Dendritic cells activated","Mast cells resting","Mast cells activated","Eosinophils","Neutrophils"], "paddingInner": 0.1, "paddingOuter": 0.15},
               "axis": {"title": null, "labelAngle": -45, "labelAlign": "right", "labelBaseline": "top", "labelFontSize": 8, "labelPadding": 1}},
         "xOffset": {"field": "grp", "type": "nominal", "scale": {"domain": ["Low", "High"], "paddingInner": 0, "paddingOuter": 0}},
         "y": {"field": "lo", "type": "quantitative", "scale": {"domain": [-0.027, 0.685], "nice": false, "zero": false}, "axis": {"title": "Fraction", "values": [0, 0.2, 0.4], "format": ".1f", "titlePadding": 4}},
         "y2": {"field": "hi"}
       }},
      {"data": {"name": "imm"}, "mark": {"type": "bar", "stroke": "#333333", "strokeWidth": 0.5},
       "encoding": {
         "x": {"field": "cell", "type": "nominal"},
         "xOffset": {"field": "grp", "type": "nominal"},
         "y": {"field": "q1", "type": "quantitative"}, "y2": {"field": "q3"},
         "color": {"field": "grp", "type": "nominal", "scale": {"domain": ["Low", "High"], "range": ["#1468FF", "#FF0000"]},
                   "legend": {"title": "CCDC25", "orient": "none", "legendX": 108, "legendY": 5, "direction": "horizontal", "titleOrient": "left", "symbolType": "M-1,-0.55H1V0.55H-1Z M-1,0H1 M0,-0.55V-0.95 M0,0.55V0.95", "symbolSize": 100, "symbolStrokeColor": "#333333", "symbolStrokeWidth": 0.8, "columnPadding": 6, "labelOffset": 3, "titlePadding": 5}}
       }},
      {"data": {"name": "imm"}, "mark": {"type": "bar", "fillOpacity": 0, "stroke": "#000000", "strokeWidth": 1.2},
       "encoding": {
         "x": {"field": "cell", "type": "nominal"},
         "xOffset": {"field": "grp", "type": "nominal"},
         "y": {"field": "med", "type": "quantitative"}, "y2": {"field": "med"}
       }},
      {"data": {"name": "imm_out"}, "mark": {"type": "circle", "color": "#000000", "size": 6, "opacity": 1},
       "encoding": {
         "x": {"field": "cell", "type": "nominal"},
         "xOffset": {"field": "grp", "type": "nominal"},
         "y": {"field": "v", "type": "quantitative"}
       }}
    ]
   }
  ]
 },
 {
  "spacing": 14,
  "resolve": {"scale": {"color": "independent", "size": "independent"}},
  "vconcat": [
 {
  "spacing": 0,
  "resolve": {"scale": {"color": "independent"}},
  "hconcat": [
   {"width": 207, "height": 163, "title": {"text": "C", "offset": 8},
    "layer": [
     {"data": {"name": "drug"}, "transform": [{"filter": "datum.panel === 'C'"}], "mark": {"type": "rule", "color": "#333333", "strokeWidth": 0.8},
      "encoding": {"x": {"field": "grp", "type": "nominal", "sort": ["Low", "High"], "scale": {"domain": ["Low", "High"], "paddingInner": 0.29, "paddingOuter": 0.245}, "axis": {"title": "CCDC25", "labelAngle": 0}},
                   "y": {"field": "lo", "type": "quantitative", "scale": {"domain": [1.99, 3.63], "nice": false, "zero": false}, "axis": {"title": "PHA-665752 sensitivity (IC50)", "values": [2, 2.4, 2.8, 3.2, 3.6], "format": ".1f"}},
                   "y2": {"field": "hi"}}},
     {"data": {"name": "drug"}, "transform": [{"filter": "datum.panel === 'C'"}], "mark": {"type": "bar", "stroke": "#333333", "strokeWidth": 0.7},
      "encoding": {"x": {"field": "grp", "type": "nominal"}, "y": {"field": "q1", "type": "quantitative"}, "y2": {"field": "q3"},
                   "color": {"field": "grp", "type": "nominal", "scale": {"domain": ["Low", "High"], "range": ["#1468FF", "#FF0000"]},
                             "legend": {"title": "CCDC25", "orient": "none", "legendX": 54, "legendY": -21, "direction": "horizontal", "titleOrient": "left", "symbolType": "M-1,-0.55H1V0.55H-1Z M-1,0H1 M0,-0.55V-0.95 M0,0.55V0.95", "symbolSize": 100, "symbolStrokeColor": "#333333", "symbolStrokeWidth": 0.8, "columnPadding": 6, "labelOffset": 3, "titlePadding": 5}}}},
     {"data": {"name": "drug"}, "transform": [{"filter": "datum.panel === 'C'"}], "mark": {"type": "bar", "fillOpacity": 0, "stroke": "#000000", "strokeWidth": 1.5},
      "encoding": {"x": {"field": "grp", "type": "nominal"}, "y": {"field": "med", "type": "quantitative"}, "y2": {"field": "med"}}},
     {"data": {"name": "drug_out"}, "transform": [{"filter": "datum.panel === 'C'"}], "mark": {"type": "circle", "color": "#000000", "size": 9, "opacity": 1},
      "encoding": {"x": {"field": "grp", "type": "nominal"}, "y": {"field": "v", "type": "quantitative"}}},
     {"data": {"name": "drug_br"}, "transform": [{"filter": "datum.panel === 'C'"}], "mark": {"type": "line", "color": "#8c8c8c", "strokeWidth": 0.8},
      "encoding": {"x": {"field": "grp", "type": "nominal"}, "y": {"field": "y", "type": "quantitative"}, "order": {"field": "ord"}}},
     {"data": {"name": "drug_p"}, "transform": [{"filter": "datum.panel === 'C'"}], "mark": {"type": "text", "fontSize": 7, "baseline": "bottom", "dy": -1, "color": "#333333"},
      "encoding": {"y": {"field": "y", "type": "quantitative"}, "text": {"field": "p"}}}
    ]},
   {"width": 197, "height": 163, "title": {"text": "D", "offset": 8},
    "layer": [
     {"data": {"name": "drug"}, "transform": [{"filter": "datum.panel === 'D'"}], "mark": {"type": "rule", "color": "#333333", "strokeWidth": 0.8},
      "encoding": {"x": {"field": "grp", "type": "nominal", "sort": ["Low", "High"], "scale": {"domain": ["Low", "High"], "paddingInner": 0.29, "paddingOuter": 0.245}, "axis": {"title": "CCDC25", "labelAngle": 0}},
                   "y": {"field": "lo", "type": "quantitative", "scale": {"domain": [-0.59, 7.57], "nice": false, "zero": false}, "axis": {"title": "5-Fluorouracil sensitivity (IC50)", "values": [0, 2, 4, 6], "format": "d"}},
                   "y2": {"field": "hi"}}},
     {"data": {"name": "drug"}, "transform": [{"filter": "datum.panel === 'D'"}], "mark": {"type": "bar", "stroke": "#333333", "strokeWidth": 0.7},
      "encoding": {"x": {"field": "grp", "type": "nominal"}, "y": {"field": "q1", "type": "quantitative"}, "y2": {"field": "q3"},
                   "color": {"field": "grp", "type": "nominal", "scale": {"domain": ["Low", "High"], "range": ["#1468FF", "#FF0000"]},
                             "legend": {"title": "CCDC25", "orient": "none", "legendX": 49, "legendY": -21, "direction": "horizontal", "titleOrient": "left", "symbolType": "M-1,-0.55H1V0.55H-1Z M-1,0H1 M0,-0.55V-0.95 M0,0.55V0.95", "symbolSize": 100, "symbolStrokeColor": "#333333", "symbolStrokeWidth": 0.8, "columnPadding": 6, "labelOffset": 3, "titlePadding": 5}}}},
     {"data": {"name": "drug"}, "transform": [{"filter": "datum.panel === 'D'"}], "mark": {"type": "bar", "fillOpacity": 0, "stroke": "#000000", "strokeWidth": 1.5},
      "encoding": {"x": {"field": "grp", "type": "nominal"}, "y": {"field": "med", "type": "quantitative"}, "y2": {"field": "med"}}},
     {"data": {"name": "drug_out"}, "transform": [{"filter": "datum.panel === 'D'"}], "mark": {"type": "circle", "color": "#000000", "size": 9, "opacity": 1},
      "encoding": {"x": {"field": "grp", "type": "nominal"}, "y": {"field": "v", "type": "quantitative"}}},
     {"data": {"name": "drug_br"}, "transform": [{"filter": "datum.panel === 'D'"}], "mark": {"type": "line", "color": "#8c8c8c", "strokeWidth": 0.8},
      "encoding": {"x": {"field": "grp", "type": "nominal"}, "y": {"field": "y", "type": "quantitative"}, "order": {"field": "ord"}}},
     {"data": {"name": "drug_p"}, "transform": [{"filter": "datum.panel === 'D'"}], "mark": {"type": "text", "fontSize": 7, "baseline": "bottom", "dy": -1, "color": "#333333"},
      "encoding": {"y": {"field": "y", "type": "quantitative"}, "text": {"field": "p"}}}
    ]},
   {"width": 205, "height": 163, "title": {"text": "E", "offset": 8},
    "layer": [
     {"data": {"name": "drug"}, "transform": [{"filter": "datum.panel === 'E'"}], "mark": {"type": "rule", "color": "#333333", "strokeWidth": 0.8},
      "encoding": {"x": {"field": "grp", "type": "nominal", "sort": ["Low", "High"], "scale": {"domain": ["Low", "High"], "paddingInner": 0.29, "paddingOuter": 0.245}, "axis": {"title": "CCDC25", "labelAngle": 0}},
                   "y": {"field": "lo", "type": "quantitative", "scale": {"domain": [0.7, 5.04], "nice": false, "zero": false}, "axis": {"title": "CP466722 sensitivity (IC50)", "values": [1, 2, 3, 4, 5], "format": "d"}},
                   "y2": {"field": "hi"}}},
     {"data": {"name": "drug"}, "transform": [{"filter": "datum.panel === 'E'"}], "mark": {"type": "bar", "stroke": "#333333", "strokeWidth": 0.7},
      "encoding": {"x": {"field": "grp", "type": "nominal"}, "y": {"field": "q1", "type": "quantitative"}, "y2": {"field": "q3"},
                   "color": {"field": "grp", "type": "nominal", "scale": {"domain": ["Low", "High"], "range": ["#1468FF", "#FF0000"]},
                             "legend": {"title": "CCDC25", "orient": "none", "legendX": 53, "legendY": -21, "direction": "horizontal", "titleOrient": "left", "symbolType": "M-1,-0.55H1V0.55H-1Z M-1,0H1 M0,-0.55V-0.95 M0,0.55V0.95", "symbolSize": 100, "symbolStrokeColor": "#333333", "symbolStrokeWidth": 0.8, "columnPadding": 6, "labelOffset": 3, "titlePadding": 5}}}},
     {"data": {"name": "drug"}, "transform": [{"filter": "datum.panel === 'E'"}], "mark": {"type": "bar", "fillOpacity": 0, "stroke": "#000000", "strokeWidth": 1.5},
      "encoding": {"x": {"field": "grp", "type": "nominal"}, "y": {"field": "med", "type": "quantitative"}, "y2": {"field": "med"}}},
     {"data": {"name": "drug_out"}, "transform": [{"filter": "datum.panel === 'E'"}], "mark": {"type": "circle", "color": "#000000", "size": 9, "opacity": 1},
      "encoding": {"x": {"field": "grp", "type": "nominal"}, "y": {"field": "v", "type": "quantitative"}}},
     {"data": {"name": "drug_br"}, "transform": [{"filter": "datum.panel === 'E'"}], "mark": {"type": "line", "color": "#8c8c8c", "strokeWidth": 0.8},
      "encoding": {"x": {"field": "grp", "type": "nominal"}, "y": {"field": "y", "type": "quantitative"}, "order": {"field": "ord"}}},
     {"data": {"name": "drug_p"}, "transform": [{"filter": "datum.panel === 'E'"}], "mark": {"type": "text", "fontSize": 7, "baseline": "bottom", "dy": -1, "color": "#333333"},
      "encoding": {"y": {"field": "y", "type": "quantitative"}, "text": {"field": "p"}}}
    ]}
  ]
 },
 {
  "spacing": 10,
  "resolve": {"scale": {"color": "independent", "size": "independent"}},
  "vconcat": [
 {
  "spacing": 0,
  "resolve": {"scale": {"color": "independent"}},
  "hconcat": [
   {"width": 207, "height": 161, "title": {"text": "F", "offset": 0},
    "layer": [
     {"data": {"name": "drug"}, "transform": [{"filter": "datum.panel === 'F'"}], "mark": {"type": "rule", "color": "#333333", "strokeWidth": 0.8},
      "encoding": {"x": {"field": "grp", "type": "nominal", "sort": ["Low", "High"], "scale": {"domain": ["Low", "High"], "paddingInner": 0.29, "paddingOuter": 0.245}, "axis": {"title": "CCDC25", "labelAngle": 0}},
                   "y": {"field": "lo", "type": "quantitative", "scale": {"domain": [0.04, 4.38], "nice": false, "zero": false}, "axis": {"title": "Crizotinib sensitivity (IC50)", "values": [1, 2, 3, 4], "format": "d"}},
                   "y2": {"field": "hi"}}},
     {"data": {"name": "drug"}, "transform": [{"filter": "datum.panel === 'F'"}], "mark": {"type": "bar", "stroke": "#333333", "strokeWidth": 0.7},
      "encoding": {"x": {"field": "grp", "type": "nominal"}, "y": {"field": "q1", "type": "quantitative"}, "y2": {"field": "q3"},
                   "color": {"field": "grp", "type": "nominal", "scale": {"domain": ["Low", "High"], "range": ["#1468FF", "#FF0000"]},
                             "legend": {"title": "CCDC25", "orient": "none", "legendX": 54, "legendY": -21, "direction": "horizontal", "titleOrient": "left", "symbolType": "M-1,-0.55H1V0.55H-1Z M-1,0H1 M0,-0.55V-0.95 M0,0.55V0.95", "symbolSize": 100, "symbolStrokeColor": "#333333", "symbolStrokeWidth": 0.8, "columnPadding": 6, "labelOffset": 3, "titlePadding": 5}}}},
     {"data": {"name": "drug"}, "transform": [{"filter": "datum.panel === 'F'"}], "mark": {"type": "bar", "fillOpacity": 0, "stroke": "#000000", "strokeWidth": 1.5},
      "encoding": {"x": {"field": "grp", "type": "nominal"}, "y": {"field": "med", "type": "quantitative"}, "y2": {"field": "med"}}},
     {"data": {"name": "drug_out"}, "transform": [{"filter": "datum.panel === 'F'"}], "mark": {"type": "circle", "color": "#000000", "size": 9, "opacity": 1},
      "encoding": {"x": {"field": "grp", "type": "nominal"}, "y": {"field": "v", "type": "quantitative"}}},
     {"data": {"name": "drug_br"}, "transform": [{"filter": "datum.panel === 'F'"}], "mark": {"type": "line", "color": "#8c8c8c", "strokeWidth": 0.8},
      "encoding": {"x": {"field": "grp", "type": "nominal"}, "y": {"field": "y", "type": "quantitative"}, "order": {"field": "ord"}}},
     {"data": {"name": "drug_p"}, "transform": [{"filter": "datum.panel === 'F'"}], "mark": {"type": "text", "fontSize": 7, "baseline": "bottom", "dy": -1, "color": "#333333"},
      "encoding": {"y": {"field": "y", "type": "quantitative"}, "text": {"field": "p"}}}
    ]},
   {"width": 200, "height": 161, "title": {"text": "G", "offset": 0},
    "layer": [
     {"data": {"name": "drug"}, "transform": [{"filter": "datum.panel === 'G'"}], "mark": {"type": "rule", "color": "#333333", "strokeWidth": 0.8},
      "encoding": {"x": {"field": "grp", "type": "nominal", "sort": ["Low", "High"], "scale": {"domain": ["Low", "High"], "paddingInner": 0.29, "paddingOuter": 0.245}, "axis": {"title": "CCDC25", "labelAngle": 0}},
                   "y": {"field": "lo", "type": "quantitative", "scale": {"domain": [4.065, 6.57], "nice": false, "zero": false}, "axis": {"title": "EX-527 sensitivity (IC50)", "values": [4.5, 5, 5.5, 6, 6.5], "format": ".1f"}},
                   "y2": {"field": "hi"}}},
     {"data": {"name": "drug"}, "transform": [{"filter": "datum.panel === 'G'"}], "mark": {"type": "bar", "stroke": "#333333", "strokeWidth": 0.7},
      "encoding": {"x": {"field": "grp", "type": "nominal"}, "y": {"field": "q1", "type": "quantitative"}, "y2": {"field": "q3"},
                   "color": {"field": "grp", "type": "nominal", "scale": {"domain": ["Low", "High"], "range": ["#1468FF", "#FF0000"]},
                             "legend": {"title": "CCDC25", "orient": "none", "legendX": 50, "legendY": -21, "direction": "horizontal", "titleOrient": "left", "symbolType": "M-1,-0.55H1V0.55H-1Z M-1,0H1 M0,-0.55V-0.95 M0,0.55V0.95", "symbolSize": 100, "symbolStrokeColor": "#333333", "symbolStrokeWidth": 0.8, "columnPadding": 6, "labelOffset": 3, "titlePadding": 5}}}},
     {"data": {"name": "drug"}, "transform": [{"filter": "datum.panel === 'G'"}], "mark": {"type": "bar", "fillOpacity": 0, "stroke": "#000000", "strokeWidth": 1.5},
      "encoding": {"x": {"field": "grp", "type": "nominal"}, "y": {"field": "med", "type": "quantitative"}, "y2": {"field": "med"}}},
     {"data": {"name": "drug_out"}, "transform": [{"filter": "datum.panel === 'G'"}], "mark": {"type": "circle", "color": "#000000", "size": 9, "opacity": 1},
      "encoding": {"x": {"field": "grp", "type": "nominal"}, "y": {"field": "v", "type": "quantitative"}}},
     {"data": {"name": "drug_br"}, "transform": [{"filter": "datum.panel === 'G'"}], "mark": {"type": "line", "color": "#8c8c8c", "strokeWidth": 0.8},
      "encoding": {"x": {"field": "grp", "type": "nominal"}, "y": {"field": "y", "type": "quantitative"}, "order": {"field": "ord"}}},
     {"data": {"name": "drug_p"}, "transform": [{"filter": "datum.panel === 'G'"}], "mark": {"type": "text", "fontSize": 7, "baseline": "bottom", "dy": -1, "color": "#333333"},
      "encoding": {"y": {"field": "y", "type": "quantitative"}, "text": {"field": "p"}}}
    ]},
   {"width": 200, "height": 161, "title": {"text": "H", "offset": 0},
    "layer": [
     {"data": {"name": "drug"}, "transform": [{"filter": "datum.panel === 'H'"}], "mark": {"type": "rule", "color": "#333333", "strokeWidth": 0.8},
      "encoding": {"x": {"field": "grp", "type": "nominal", "sort": ["Low", "High"], "scale": {"domain": ["Low", "High"], "paddingInner": 0.29, "paddingOuter": 0.245}, "axis": {"title": "CCDC25", "labelAngle": 0}},
                   "y": {"field": "lo", "type": "quantitative", "scale": {"domain": [-1.13, 2.58], "nice": false, "zero": false}, "axis": {"title": "Gefitinib sensitivity (IC50)", "values": [-1, 0, 1, 2], "format": "d"}},
                   "y2": {"field": "hi"}}},
     {"data": {"name": "drug"}, "transform": [{"filter": "datum.panel === 'H'"}], "mark": {"type": "bar", "stroke": "#333333", "strokeWidth": 0.7},
      "encoding": {"x": {"field": "grp", "type": "nominal"}, "y": {"field": "q1", "type": "quantitative"}, "y2": {"field": "q3"},
                   "color": {"field": "grp", "type": "nominal", "scale": {"domain": ["Low", "High"], "range": ["#1468FF", "#FF0000"]},
                             "legend": {"title": "CCDC25", "orient": "none", "legendX": 50, "legendY": -21, "direction": "horizontal", "titleOrient": "left", "symbolType": "M-1,-0.55H1V0.55H-1Z M-1,0H1 M0,-0.55V-0.95 M0,0.55V0.95", "symbolSize": 100, "symbolStrokeColor": "#333333", "symbolStrokeWidth": 0.8, "columnPadding": 6, "labelOffset": 3, "titlePadding": 5}}}},
     {"data": {"name": "drug"}, "transform": [{"filter": "datum.panel === 'H'"}], "mark": {"type": "bar", "fillOpacity": 0, "stroke": "#000000", "strokeWidth": 1.5},
      "encoding": {"x": {"field": "grp", "type": "nominal"}, "y": {"field": "med", "type": "quantitative"}, "y2": {"field": "med"}}},
     {"data": {"name": "drug_out"}, "transform": [{"filter": "datum.panel === 'H'"}], "mark": {"type": "circle", "color": "#000000", "size": 9, "opacity": 1},
      "encoding": {"x": {"field": "grp", "type": "nominal"}, "y": {"field": "v", "type": "quantitative"}}},
     {"data": {"name": "drug_br"}, "transform": [{"filter": "datum.panel === 'H'"}], "mark": {"type": "line", "color": "#8c8c8c", "strokeWidth": 0.8},
      "encoding": {"x": {"field": "grp", "type": "nominal"}, "y": {"field": "y", "type": "quantitative"}, "order": {"field": "ord"}}},
     {"data": {"name": "drug_p"}, "transform": [{"filter": "datum.panel === 'H'"}], "mark": {"type": "text", "fontSize": 7, "baseline": "bottom", "dy": -1, "color": "#333333"},
      "encoding": {"y": {"field": "y", "type": "quantitative"}, "text": {"field": "p"}}}
    ]}
  ]
 },
 {
  "spacing": 0,
  "resolve": {"scale": {"color": "independent"}},
  "hconcat": [
   {"width": 207, "height": 159, "title": {"text": "I", "offset": -18},
    "layer": [
     {"data": {"name": "drug"}, "transform": [{"filter": "datum.panel === 'I'"}], "mark": {"type": "rule", "color": "#333333", "strokeWidth": 0.8},
      "encoding": {"x": {"field": "grp", "type": "nominal", "sort": ["Low", "High"], "scale": {"domain": ["Low", "High"], "paddingInner": 0.29, "paddingOuter": 0.245}, "axis": {"title": "CCDC25", "labelAngle": 0}},
                   "y": {"field": "lo", "type": "quantitative", "scale": {"domain": [3.28, 6.27], "nice": false, "zero": false}, "axis": {"title": "GSK429286A sensitivity (IC50)", "values": [4, 5, 6], "format": "d"}},
                   "y2": {"field": "hi"}}},
     {"data": {"name": "drug"}, "transform": [{"filter": "datum.panel === 'I'"}], "mark": {"type": "bar", "stroke": "#333333", "strokeWidth": 0.7},
      "encoding": {"x": {"field": "grp", "type": "nominal"}, "y": {"field": "q1", "type": "quantitative"}, "y2": {"field": "q3"},
                   "color": {"field": "grp", "type": "nominal", "scale": {"domain": ["Low", "High"], "range": ["#1468FF", "#FF0000"]},
                             "legend": {"title": "CCDC25", "orient": "none", "legendX": 54, "legendY": -21, "direction": "horizontal", "titleOrient": "left", "symbolType": "M-1,-0.55H1V0.55H-1Z M-1,0H1 M0,-0.55V-0.95 M0,0.55V0.95", "symbolSize": 100, "symbolStrokeColor": "#333333", "symbolStrokeWidth": 0.8, "columnPadding": 6, "labelOffset": 3, "titlePadding": 5}}}},
     {"data": {"name": "drug"}, "transform": [{"filter": "datum.panel === 'I'"}], "mark": {"type": "bar", "fillOpacity": 0, "stroke": "#000000", "strokeWidth": 1.5},
      "encoding": {"x": {"field": "grp", "type": "nominal"}, "y": {"field": "med", "type": "quantitative"}, "y2": {"field": "med"}}},
     {"data": {"name": "drug_out"}, "transform": [{"filter": "datum.panel === 'I'"}], "mark": {"type": "circle", "color": "#000000", "size": 9, "opacity": 1},
      "encoding": {"x": {"field": "grp", "type": "nominal"}, "y": {"field": "v", "type": "quantitative"}}},
     {"data": {"name": "drug_br"}, "transform": [{"filter": "datum.panel === 'I'"}], "mark": {"type": "line", "color": "#8c8c8c", "strokeWidth": 0.8},
      "encoding": {"x": {"field": "grp", "type": "nominal"}, "y": {"field": "y", "type": "quantitative"}, "order": {"field": "ord"}}},
     {"data": {"name": "drug_p"}, "transform": [{"filter": "datum.panel === 'I'"}], "mark": {"type": "text", "fontSize": 7, "baseline": "bottom", "dy": -1, "color": "#333333"},
      "encoding": {"y": {"field": "y", "type": "quantitative"}, "text": {"field": "p"}}}
    ]},
   {"width": 195, "height": 159, "title": {"text": "J", "offset": -18},
    "layer": [
     {"data": {"name": "drug"}, "transform": [{"filter": "datum.panel === 'J'"}], "mark": {"type": "rule", "color": "#333333", "strokeWidth": 0.8},
      "encoding": {"x": {"field": "grp", "type": "nominal", "sort": ["Low", "High"], "scale": {"domain": ["Low", "High"], "paddingInner": 0.29, "paddingOuter": 0.245}, "axis": {"title": "CCDC25", "labelAngle": 0}},
                   "y": {"field": "lo", "type": "quantitative", "scale": {"domain": [-4.35, 6.85], "nice": false, "zero": false}, "axis": {"title": "OSI-027 sensitivity (IC50)", "values": [-2.5, 0, 2.5, 5], "format": ".1f"}},
                   "y2": {"field": "hi"}}},
     {"data": {"name": "drug"}, "transform": [{"filter": "datum.panel === 'J'"}], "mark": {"type": "bar", "stroke": "#333333", "strokeWidth": 0.7},
      "encoding": {"x": {"field": "grp", "type": "nominal"}, "y": {"field": "q1", "type": "quantitative"}, "y2": {"field": "q3"},
                   "color": {"field": "grp", "type": "nominal", "scale": {"domain": ["Low", "High"], "range": ["#1468FF", "#FF0000"]},
                             "legend": {"title": "CCDC25", "orient": "none", "legendX": 48, "legendY": -21, "direction": "horizontal", "titleOrient": "left", "symbolType": "M-1,-0.55H1V0.55H-1Z M-1,0H1 M0,-0.55V-0.95 M0,0.55V0.95", "symbolSize": 100, "symbolStrokeColor": "#333333", "symbolStrokeWidth": 0.8, "columnPadding": 6, "labelOffset": 3, "titlePadding": 5}}}},
     {"data": {"name": "drug"}, "transform": [{"filter": "datum.panel === 'J'"}], "mark": {"type": "bar", "fillOpacity": 0, "stroke": "#000000", "strokeWidth": 1.5},
      "encoding": {"x": {"field": "grp", "type": "nominal"}, "y": {"field": "med", "type": "quantitative"}, "y2": {"field": "med"}}},
     {"data": {"name": "drug_out"}, "transform": [{"filter": "datum.panel === 'J'"}], "mark": {"type": "circle", "color": "#000000", "size": 9, "opacity": 1},
      "encoding": {"x": {"field": "grp", "type": "nominal"}, "y": {"field": "v", "type": "quantitative"}}},
     {"data": {"name": "drug_br"}, "transform": [{"filter": "datum.panel === 'J'"}], "mark": {"type": "line", "color": "#8c8c8c", "strokeWidth": 0.8},
      "encoding": {"x": {"field": "grp", "type": "nominal"}, "y": {"field": "y", "type": "quantitative"}, "order": {"field": "ord"}}},
     {"data": {"name": "drug_p"}, "transform": [{"filter": "datum.panel === 'J'"}], "mark": {"type": "text", "fontSize": 7, "baseline": "bottom", "dy": -1, "color": "#333333"},
      "encoding": {"y": {"field": "y", "type": "quantitative"}, "text": {"field": "p"}}}
    ]},
   {"width": 200, "height": 159, "title": {"text": "K", "offset": -18},
    "layer": [
     {"data": {"name": "drug"}, "transform": [{"filter": "datum.panel === 'K'"}], "mark": {"type": "rule", "color": "#333333", "strokeWidth": 0.8},
      "encoding": {"x": {"field": "grp", "type": "nominal", "sort": ["Low", "High"], "scale": {"domain": ["Low", "High"], "paddingInner": 0.29, "paddingOuter": 0.245}, "axis": {"title": "CCDC25", "labelAngle": 0}},
                   "y": {"field": "lo", "type": "quantitative", "scale": {"domain": [-1.55, 6.05], "nice": false, "zero": false}, "axis": {"title": "PD-0332991 sensitivity (IC50)", "values": [0, 2, 4], "format": "d"}},
                   "y2": {"field": "hi"}}},
     {"data": {"name": "drug"}, "transform": [{"filter": "datum.panel === 'K'"}], "mark": {"type": "bar", "stroke": "#333333", "strokeWidth": 0.7},
      "encoding": {"x": {"field": "grp", "type": "nominal"}, "y": {"field": "q1", "type": "quantitative"}, "y2": {"field": "q3"},
                   "color": {"field": "grp", "type": "nominal", "scale": {"domain": ["Low", "High"], "range": ["#1468FF", "#FF0000"]},
                             "legend": {"title": "CCDC25", "orient": "none", "legendX": 50, "legendY": -21, "direction": "horizontal", "titleOrient": "left", "symbolType": "M-1,-0.55H1V0.55H-1Z M-1,0H1 M0,-0.55V-0.95 M0,0.55V0.95", "symbolSize": 100, "symbolStrokeColor": "#333333", "symbolStrokeWidth": 0.8, "columnPadding": 6, "labelOffset": 3, "titlePadding": 5}}}},
     {"data": {"name": "drug"}, "transform": [{"filter": "datum.panel === 'K'"}], "mark": {"type": "bar", "fillOpacity": 0, "stroke": "#000000", "strokeWidth": 1.5},
      "encoding": {"x": {"field": "grp", "type": "nominal"}, "y": {"field": "med", "type": "quantitative"}, "y2": {"field": "med"}}},
     {"data": {"name": "drug_out"}, "transform": [{"filter": "datum.panel === 'K'"}], "mark": {"type": "circle", "color": "#000000", "size": 9, "opacity": 1},
      "encoding": {"x": {"field": "grp", "type": "nominal"}, "y": {"field": "v", "type": "quantitative"}}},
     {"data": {"name": "drug_br"}, "transform": [{"filter": "datum.panel === 'K'"}], "mark": {"type": "line", "color": "#8c8c8c", "strokeWidth": 0.8},
      "encoding": {"x": {"field": "grp", "type": "nominal"}, "y": {"field": "y", "type": "quantitative"}, "order": {"field": "ord"}}},
     {"data": {"name": "drug_p"}, "transform": [{"filter": "datum.panel === 'K'"}], "mark": {"type": "text", "fontSize": 7, "baseline": "bottom", "dy": -1, "color": "#333333"},
      "encoding": {"y": {"field": "y", "type": "quantitative"}, "text": {"field": "p"}}}
    ]}
  ]
 }
  ]
 }
  ]
 }
]
}
